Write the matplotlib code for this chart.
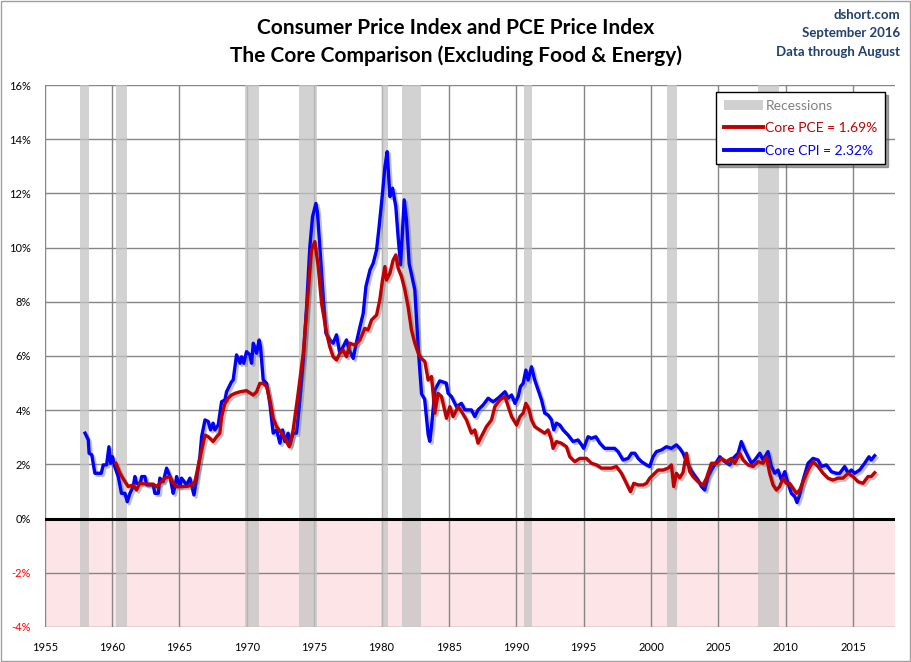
import matplotlib
matplotlib.use("Agg")
import matplotlib.pyplot as plt
import matplotlib.patheffects as pe
from matplotlib.patches import Patch, Rectangle
from matplotlib.lines import Line2D

# ---- data ----
cpi_years = [1958.0, 1958.24, 1958.3, 1958.5, 1958.6, 1958.73, 1959.2, 1959.35, 1959.6, 1959.77, 1959.9,
             1960.04, 1960.2, 1960.46, 1960.7, 1960.96, 1961.13, 1961.33, 1961.57, 1961.7, 1961.82, 1962.1,
             1962.2, 1962.44, 1962.57, 1963.06, 1963.18, 1963.43, 1963.55, 1963.8, 1964.05, 1964.3, 1964.54,
             1964.67, 1964.79, 1965.04, 1965.16, 1965.53, 1965.78, 1966.08, 1966.28, 1966.52, 1966.65, 1966.9,
             1967.14, 1967.31, 1967.5, 1967.63, 1967.88, 1968.13, 1968.38, 1968.5, 1968.75, 1968.87, 1968.99,
             1969.24, 1969.5, 1969.61, 1969.78, 1969.98, 1970.23, 1970.36, 1970.48, 1970.6, 1970.73, 1970.92,
             1971.02, 1971.22, 1971.47, 1971.71, 1971.96, 1972.21, 1972.46, 1972.66, 1972.83, 1973.07, 1973.2,
             1973.44, 1973.69, 1973.94, 1974.19, 1974.44, 1974.68, 1974.88, 1975.13, 1975.25, 1975.42, 1975.67,
             1975.87, 1976.16, 1976.41, 1976.66, 1976.9, 1977.15, 1977.4, 1977.6, 1977.9, 1978.09, 1978.4,
             1978.64, 1978.84, 1979.14, 1979.38, 1979.63, 1979.82, 1980.07, 1980.25, 1980.42, 1980.62, 1980.82,
             1981.06, 1981.23, 1981.41, 1981.56, 1981.68, 1981.85, 1982.05, 1982.23, 1982.47, 1982.72, 1982.97,
             1983.2, 1983.46, 1983.58, 1983.71, 1983.96, 1984.32, 1984.8, 1984.94, 1985.19, 1985.56, 1985.93,
             1986.18, 1986.67, 1986.92, 1987.16, 1987.54, 1987.91, 1988.28, 1988.65, 1989.16, 1989.4, 1989.65,
             1989.9, 1990.14, 1990.31, 1990.51, 1990.71, 1990.88, 1991.13, 1991.37, 1991.62, 1991.87, 1992.11,
             1992.36, 1992.61, 1992.78, 1992.98, 1993.23, 1993.47, 1993.84, 1994.21, 1994.58, 1994.84, 1995.0,
             1995.33, 1995.57, 1995.9, 1996.2, 1996.56, 1996.93, 1997.3, 1997.55, 1997.92, 1998.3, 1998.55,
             1998.8, 1999.04, 1999.29, 1999.66, 1999.9, 2000.15, 2000.4, 2000.77, 2001.14, 2001.51, 2001.88,
             2002.13, 2002.37, 2002.74, 2003.11, 2003.48, 2003.74, 2003.98, 2004.23, 2004.48, 2004.72, 2005.1,
             2005.47, 2005.84, 2006.08, 2006.46, 2006.7, 2006.95, 2007.2, 2007.45, 2007.7, 2008.07, 2008.31,
             2008.68, 2008.93, 2009.18, 2009.42, 2009.67, 2009.92, 2010.16, 2010.41, 2010.66, 2010.83, 2011.03,
             2011.28, 2011.65, 2012.02, 2012.39, 2012.64, 2013.01, 2013.38, 2013.75, 2014.0, 2014.37, 2014.62,
             2014.86, 2015.11, 2015.48, 2015.85, 2016.17, 2016.34, 2016.59]
cpi_values = [3.15, 2.9, 2.41, 2.35, 2.04, 1.67, 1.67, 1.98, 1.98, 2.65, 2.04,
              2.28, 1.92, 1.55, 0.93, 0.93, 0.62, 0.93, 1.18, 1.55, 1.30, 1.30,
              1.55, 1.55, 1.24, 1.24, 0.93, 0.93, 1.49, 1.36, 1.86, 1.55, 0.93,
              1.18, 1.55, 1.18, 1.49, 1.24, 1.49, 0.87, 1.49, 2.28, 3.02, 3.64,
              3.58, 3.27, 3.52, 3.27, 3.45, 4.31, 4.38, 4.68, 4.93, 5.05, 5.11,
              6.04, 5.73, 5.97, 5.73, 6.16, 6.04, 5.73, 6.47, 6.3, 6.1, 6.59,
              6.34, 5.11, 4.99, 4.25, 3.15, 3.27, 2.78, 3.27, 2.84, 3.15, 2.72,
              3.15, 3.15, 4.38, 5.85, 7.82, 10.03, 11.14, 11.63, 11.27, 10.03, 8.19,
              6.84, 6.59, 6.47, 6.78, 6.1, 6.34, 6.59, 6.22, 5.91, 6.4, 7.08,
              7.57, 8.56, 9.17, 9.42, 9.91, 10.77, 12.0, 12.98, 13.54, 11.88, 12.19,
              11.51, 10.4, 9.36, 10.65, 11.76, 11.02, 9.4, 9.0, 8.44, 6.3, 4.6,
              4.4, 3.1, 2.85, 3.39, 4.75, 5.08, 5.0, 4.62, 4.5, 4.13, 4.25,
              4.01, 4.01, 3.76, 4.01, 4.19, 4.44, 4.31, 4.44, 4.68, 4.44, 4.56,
              4.25, 4.5, 4.87, 4.99, 5.48, 5.11, 5.6, 5.11, 4.75, 4.38, 3.89,
              3.82, 3.64, 3.27, 3.52, 3.45, 3.27, 3.08, 2.84, 2.9, 2.72, 2.59,
              3.02, 2.96, 3.02, 2.78, 2.59, 2.59, 2.59, 2.47, 2.16, 2.22, 2.41,
              2.41, 2.22, 2.1, 1.98, 1.92, 2.28, 2.47, 2.53, 2.65, 2.59, 2.72,
              2.59, 2.41, 1.98, 1.67, 1.42, 1.18, 1.05, 1.55, 1.79, 1.98, 2.28,
              2.1, 1.98, 2.22, 2.41, 2.84, 2.53, 2.28, 2.04, 2.16, 2.41, 2.16,
              2.47, 1.92, 1.67, 1.79, 1.42, 1.73, 1.30, 0.93, 0.81, 0.59, 0.87,
              1.42, 2.04, 2.22, 2.16, 1.92, 1.98, 1.73, 1.67, 1.67, 1.92, 1.67,
              1.79, 1.67, 1.79, 2.04, 2.28, 2.16, 2.32]

pce_years = [1960.29, 1960.59, 1960.96, 1961.2, 1961.57, 1961.82, 1962.06, 1962.57, 1963.06, 1963.3,
             1963.55, 1963.92, 1964.3, 1964.54, 1964.79, 1965.04, 1965.53, 1965.9, 1966.15, 1966.39,
             1966.65, 1966.9, 1967.14, 1967.39, 1967.5, 1967.76, 1968.0, 1968.13, 1968.38, 1968.62,
             1968.87, 1969.12, 1969.5, 1969.98, 1970.48, 1970.73, 1970.97, 1971.22, 1971.47, 1971.71,
             1971.96, 1972.21, 1972.58, 1972.95, 1973.15, 1973.44, 1973.81, 1974.19, 1974.56, 1974.8,
             1975.05, 1975.3, 1975.55, 1975.92, 1976.16, 1976.41, 1976.66, 1976.9, 1977.15, 1977.4,
             1977.65, 1978.02, 1978.4, 1978.76, 1979.0, 1979.26, 1979.63, 1979.87, 1980.07, 1980.25,
             1980.37, 1980.62, 1980.86, 1981.06, 1981.23, 1981.48, 1981.73, 1981.97, 1982.22, 1982.47,
             1982.72, 1982.97, 1983.21, 1983.46, 1983.71, 1983.96, 1984.2, 1984.45, 1984.82, 1985.07,
             1985.31, 1985.68, 1985.93, 1986.3, 1986.67, 1986.92, 1987.16, 1987.4, 1987.78, 1988.16,
             1988.41, 1988.78, 1989.16, 1989.4, 1989.65, 1990.02, 1990.27, 1990.51, 1990.71, 1990.95,
             1991.13, 1991.37, 1991.74, 1992.11, 1992.36, 1992.61, 1992.73, 1992.98, 1993.35, 1993.72,
             1993.97, 1994.34, 1994.71, 1995.21, 1995.58, 1995.95, 1996.32, 1996.69, 1997.06, 1997.43,
             1997.8, 1998.17, 1998.47, 1998.72, 1999.04, 1999.41, 1999.66, 1999.9, 2000.15, 2000.52,
             2000.89, 2001.26, 2001.51, 2001.68, 2001.88, 2002.13, 2002.37, 2002.63, 2002.87, 2003.11,
             2003.48, 2003.86, 2004.11, 2004.48, 2004.85, 2005.22, 2005.59, 2005.96, 2006.21, 2006.58,
             2006.83, 2007.2, 2007.57, 2007.94, 2008.31, 2008.56, 2008.8, 2009.05, 2009.3, 2009.54,
             2009.79, 2010.04, 2010.28, 2010.53, 2010.78, 2011.03, 2011.28, 2011.65, 2012.02, 2012.39,
             2012.76, 2013.13, 2013.5, 2013.87, 2014.24, 2014.62, 2014.99, 2015.36, 2015.73, 2016.1,
             2016.34, 2016.59]
pce_values = [2.04, 1.67, 1.36, 1.18, 1.24, 1.05, 1.30, 1.27, 1.27, 1.18,
              1.30, 1.49, 1.55, 1.30, 1.18, 1.18, 1.18, 1.24, 1.36, 1.92,
              2.53, 3.08, 3.02, 2.9, 2.84, 3.02, 3.15, 3.76, 4.25, 4.44,
              4.56, 4.62, 4.68, 4.72, 4.56, 4.68, 4.99, 4.99, 4.87, 4.38,
              3.7, 3.39, 3.15, 2.84, 2.65, 3.27, 4.62, 6.1, 8.44, 9.91,
              10.22, 9.3, 7.94, 6.84, 6.34, 5.97, 5.85, 6.1, 6.22, 5.97,
              6.47, 6.4, 6.59, 7.02, 6.96, 7.33, 7.51, 8.07, 8.8, 9.3,
              8.8, 9.05, 9.54, 9.73, 9.24, 8.93, 8.44, 7.82, 6.96, 6.47,
              6.1, 5.9, 5.8, 5.11, 5.24, 3.89, 4.62, 4.5, 3.7, 4.13,
              3.76, 4.13, 3.95, 3.64, 3.15, 3.27, 2.78, 3.02, 3.39, 3.64,
              4.13, 4.38, 4.5, 4.13, 3.76, 3.45, 3.76, 3.89, 4.25, 4.01,
              3.64, 3.39, 3.27, 3.15, 3.27, 2.9, 2.59, 2.84, 2.78, 2.65,
              2.28, 2.1, 2.22, 2.22, 2.04, 1.98, 1.86, 1.86, 1.86, 1.92,
              1.67, 1.30, 0.99, 1.30, 1.24, 1.24, 1.30, 1.49, 1.61, 1.79,
              1.79, 1.86, 1.98, 1.18, 1.67, 1.5, 1.7, 2.41, 1.73, 1.55,
              1.36, 1.24, 1.49, 2.04, 2.04, 2.22, 2.1, 2.22, 2.04, 2.41,
              2.16, 1.98, 1.92, 2.1, 2.04, 2.28, 1.67, 1.24, 1.05, 1.18,
              1.49, 1.30, 1.30, 1.12, 0.93, 1.05, 1.36, 1.79, 2.1, 1.92,
              1.67, 1.49, 1.42, 1.49, 1.49, 1.67, 1.55, 1.36, 1.30, 1.55,
              1.55, 1.69]

recession_starts = [1957.6, 1960.3, 1969.9, 1973.9, 1980.0, 1981.5, 1990.55, 2001.2, 2007.95]
recession_ends = [1958.3, 1961.1, 1970.9, 1975.2, 1980.5, 1982.9, 1991.2, 2001.9, 2009.5]

x_ticks = list(range(1955, 2020, 5))
y_ticks = list(range(-4, 17, 2))

pce_label = "Core PCE = 1.69%"
cpi_label = "Core CPI = 2.32%"

# ---- style ----
fam = ['Lato', 'DejaVu Sans']
plt.rcParams['font.family'] = fam

fig = plt.figure(figsize=(9.11, 6.62), dpi=100)
ax = fig.add_axes([0.049, 0.053, 0.9334, 0.8186])

ax.set_xlim(1955, 2018.1)
ax.set_ylim(-4, 16)

# negative region
ax.axhspan(-4, 0, color='#FDE4E6', zorder=0, lw=0)
# recessions
for s, e in zip(recession_starts, recession_ends):
    ax.axvspan(s, e, color='#C4C4C4', alpha=0.75, zorder=1, lw=0)

ax.set_xticks(x_ticks)
ax.set_yticks(y_ticks)
ax.grid(True, color='#868686', lw=1.0, zorder=0.5)
ax.set_axisbelow(True)
ax.axhline(0, color='black', lw=2.2, zorder=3)

shadow = [pe.SimpleLineShadow(offset=(1.5, -1.5), shadow_color='#555555', alpha=0.35), pe.Normal()]
ax.plot(cpi_years, cpi_values, color='#0000FF', lw=2.4, zorder=4, path_effects=shadow, solid_joinstyle='round')
ax.plot(pce_years, pce_values, color='#C00000', lw=2.4, zorder=5, path_effects=shadow, solid_joinstyle='round')

ax.set_xticklabels([str(t) for t in x_ticks], fontsize=8)
ax.set_yticklabels([f"{t}%" for t in y_ticks], fontsize=8)
for lbl, t in zip(ax.get_yticklabels(), y_ticks):
    lbl.set_color('red' if t < 0 else 'black')
ax.tick_params(axis='x', length=0, pad=11)
ax.tick_params(axis='y', length=0, pad=10)
for sp in ax.spines.values():
    sp.set_visible(False)

# titles
fig.text(0.5, 0.957, "Consumer Price Index and PCE Price Index", ha='center', va='center',
         fontsize=15, fontweight='bold')
fig.text(0.5, 0.916, "The Core Comparison (Excluding Food & Energy)", ha='center', va='center',
         fontsize=15, fontweight='bold')
for i, t in enumerate(["dshort.com", "September 2016", "Data through August"]):
    fig.text(0.988, 0.978 - i * 0.028, t, ha='right', va='center', fontsize=9.5,
             fontweight='bold', color='#1F3F6F')

# legend
handles = [Patch(facecolor='#D0D0D0', edgecolor='none'),
           Line2D([], [], color='#C00000', lw=2.8),
           Line2D([], [], color='#0000FF', lw=2.8)]
leg = ax.legend(handles, ["Recessions", pce_label, cpi_label], loc='upper right',
                bbox_to_anchor=(0.9885, 0.987), borderaxespad=0, fontsize=10, frameon=True,
                fancybox=False, shadow=True, handlelength=2.8, handletextpad=0.2,
                borderpad=0.55, labelspacing=0.75)
leg.get_frame().set_edgecolor('black')
leg.get_frame().set_linewidth(1.0)
for txt, c in zip(leg.get_texts(), ['#808080', '#C00000', '#0000FF']):
    txt.set_color(c)
leg.set_zorder(10)

# figure border
fig.patches.append(Rectangle((0.001, 0.001), 0.998, 0.998, transform=fig.transFigure,
                             fill=False, edgecolor='#A0A0A0', lw=1))

fig.savefig("out.png", dpi=100)
